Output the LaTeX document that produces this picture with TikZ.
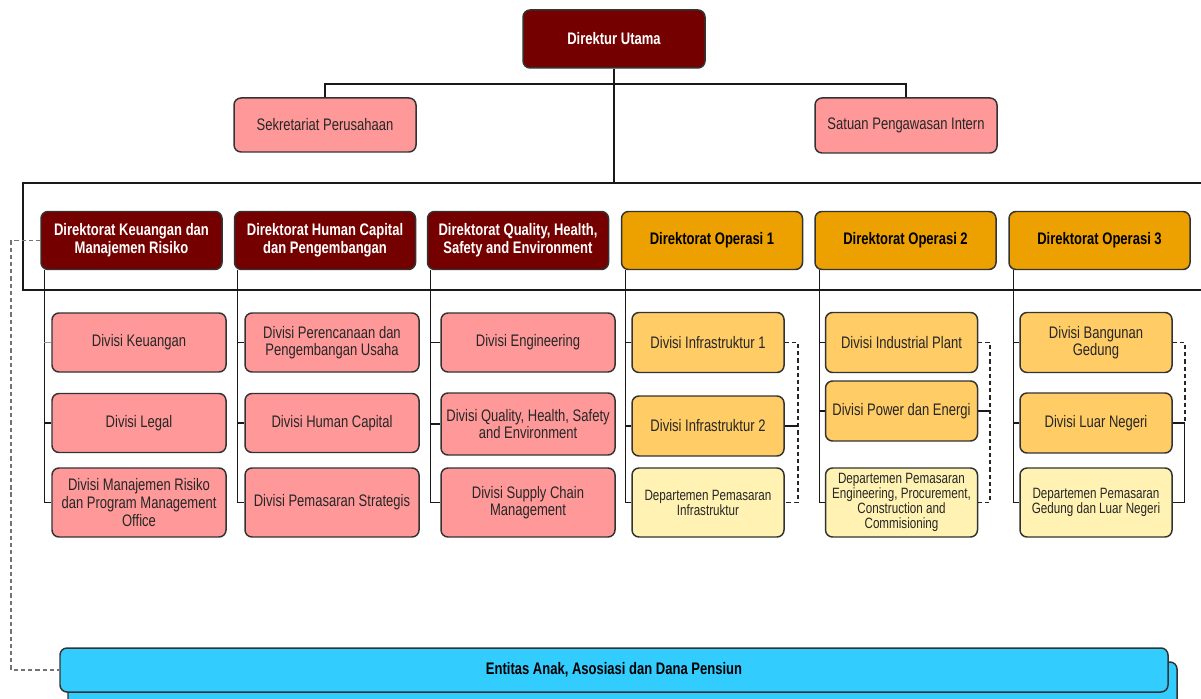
\documentclass[tikz,border=0pt]{standalone}
\usepackage{fontspec}
\setmainfont{Liberation Sans}[FakeStretch=0.78]
\usetikzlibrary{backgrounds}
\pgfdeclarelayer{edgelayer}
\pgfdeclarelayer{nodelayer}
\pgfsetlayers{edgelayer,nodelayer,main}
\definecolor{merah}{RGB}{117,0,0}
\definecolor{pink}{RGB}{255,153,153}
\definecolor{oranye}{RGB}{237,161,0}
\definecolor{oranyemuda}{RGB}{255,204,102}
\definecolor{kuning}{RGB}{255,242,178}
\definecolor{biru}{RGB}{51,204,255}
\tikzset{font=\fontsize{9.5}{10}\selectfont}
\tikzstyle{kotak}=[draw=black!80,line width=0.85pt,rounded corners=4pt,align=center,inner sep=1pt,text=black!85]
\tikzstyle{direksi}=[kotak,fill=merah,text=white,font=\bfseries\fontsize{9.5}{10.2}\selectfont,minimum width=3.64cm,minimum height=1.16cm]
\tikzstyle{dirop}=[kotak,fill=oranye,text=black,font=\bfseries\fontsize{9.5}{10.2}\selectfont,minimum width=3.62cm,minimum height=1.16cm]
\tikzstyle{divisi}=[kotak,fill=pink,minimum width=3.48cm,minimum height=1.18cm]
\tikzstyle{divop}=[kotak,fill=oranyemuda,minimum width=3.04cm,minimum height=1.2cm]
\tikzstyle{dept}=[kotak,fill=kuning,font=\fontsize{8.5}{8.5}\selectfont,minimum width=3.04cm,minimum height=1.38cm]
\tikzstyle{garis}=[line width=0.7pt,black!90]
\tikzstyle{putus}=[line width=0.95pt,black!85,dash pattern=on 2.4pt off 1.7pt]

\begin{document}
\begin{tikzpicture}
	\useasboundingbox (0,0) rectangle (24.02,-13.98);
	\clip (0,0) rectangle (24.02,-13.98);
	\begin{pgfonlayer}{nodelayer}
		\node [style=direksi] (0) at (12.28, -0.78) {Direktur Utama};
		\node [style=divisi, minimum width=3.64cm, minimum height=1.08cm] (1) at (6.5, -2.5) {Sekretariat Perusahaan};
		\node [style=divisi, minimum width=3.64cm, minimum height=1.1cm] (2) at (18.12, -2.51) {Satuan Pengawasan Intern};
		\node [style=direksi, minimum width=3.62cm] (3) at (2.63, -4.81) {Direktorat Keuangan dan\\Manajemen Risiko};
		\node [style=direksi, minimum width=3.62cm] (4) at (6.5, -4.81) {Direktorat Human Capital\\dan Pengembangan};
		\node [style=direksi, minimum width=3.62cm] (5) at (10.36, -4.81) {Direktorat Quality, Health,\\Safety and Environment};
		\node [style=dirop] (6) at (14.24, -4.81) {Direktorat Operasi 1};
		\node [style=dirop] (7) at (18.11, -4.81) {Direktorat Operasi 2};
		\node [style=dirop] (8) at (21.99, -4.81) {Direktorat Operasi 3};
		\node [style=divisi] (9) at (2.78, -6.85) {Divisi Keuangan};
		\node [style=divisi] (10) at (2.78, -8.46) {Divisi Legal};
		\node [style=divisi, minimum height=1.38cm] (11) at (2.78, -10.05) {Divisi Manajemen Risiko\\dan Program Management\\Office};
		\node [style=divisi] (12) at (6.64, -6.85) {Divisi Perencanaan dan\\Pengembangan Usaha};
		\node [style=divisi] (13) at (6.64, -8.46) {Divisi Human Capital};
		\node [style=divisi, minimum height=1.38cm] (14) at (6.64, -10.05) {Divisi Pemasaran Strategis};
		\node [style=divisi] (15) at (10.56, -6.85) {Divisi Engineering};
		\node [style=divisi, minimum height=1.24cm] (16) at (10.56, -8.48) {Divisi Quality, Health, Safety\\and Environment};
		\node [style=divisi, minimum height=1.38cm] (17) at (10.56, -10.05) {Divisi Supply Chain\\Management};
		\node [style=divop] (18) at (14.16, -6.85) {Divisi Infrastruktur 1};
		\node [style=divop] (19) at (14.16, -8.52) {Divisi Infrastruktur 2};
		\node [style=dept] (20) at (14.16, -10.05) {Departemen Pemasaran\\Infrastruktur};
		\node [style=divop] (21) at (18.03, -6.85) {Divisi Industrial Plant};
		\node [style=divop] (22) at (18.03, -8.22) {Divisi Power dan Energi};
		\node [style=dept] (23) at (18.03, -10.05) {Departemen Pemasaran\\Engineering, Procurement,\\Construction and\\Commisioning};
		\node [style=divop] (24) at (21.92, -6.85) {Divisi Bangunan\\Gedung};
		\node [style=divop] (25) at (21.92, -8.46) {Divisi Luar Negeri};
		\node [style=dept] (26) at (21.92, -10.05) {Departemen Pemasaran\\Gedung dan Luar Negeri};
		\node [style=kotak, fill=biru, text=black, font=\bfseries\fontsize{9.5}{10}\selectfont, minimum width=22.16cm, minimum height=0.88cm] (27) at (12.28, -13.4) {Entitas Anak, Asosiasi dan Dana Pensiun};
	\end{pgfonlayer}
	\begin{pgfonlayer}{edgelayer}
		\coordinate (j) at (12.28, -1.68);
		\coordinate (f) at (0.46, -3.66);
		\coordinate (t1) at ([xshift=0.08cm]3.south west);
		\coordinate (t2) at ([xshift=0.08cm]4.south west);
		\coordinate (t3) at ([xshift=0.08cm]5.south west);
		\coordinate (t4) at ([xshift=0.1cm]6.south west);
		\coordinate (t5) at ([xshift=0.1cm]7.south west);
		\coordinate (t6) at ([xshift=0.1cm]8.south west);
		\coordinate (r4) at ([xshift=0.26cm]18.east);
		\coordinate (r5) at ([xshift=0.24cm]21.east);
		\coordinate (r6) at ([xshift=0.24cm]24.east);
		% top
		\draw [style=garis] (1.north) |- (j) -| (2.north);
		\draw [style=garis] (0.south) -- (0.south |- f);
		\draw [style=garis] (f) rectangle (24.4, -5.8);
		% trunks
		\draw [style=garis] (t1) |- (11.west);
		\draw [style=garis, black!40] (9.west) -- (9.west -| t1);
		\draw [style=garis] (10.west) -- (10.west -| t1);
		\draw [style=garis] (t2) |- (14.west);
		\draw [style=garis] (12.west) -- (12.west -| t2);
		\draw [style=garis] (13.west) -- (13.west -| t2);
		\draw [style=garis] (t3) |- (17.west);
		\draw [style=garis] (15.west) -- (15.west -| t3);
		\draw [style=garis] (16.west) -- (16.west -| t3);
		\draw [style=garis] (t4) |- (20.west);
		\draw [style=garis] (18.west) -- (18.west -| t4);
		\draw [style=garis] (19.west) -- (19.west -| t4);
		\draw [style=garis] (t5) |- (23.west);
		\draw [style=garis] (21.west) -- (21.west -| t5);
		\draw [style=garis] (22.west) -- (22.west -| t5);
		\draw [style=garis] (t6) |- (26.west);
		\draw [style=garis] (24.west) -- (24.west -| t6);
		\draw [style=garis] (25.west) -- (25.west -| t6);
		% dashed links
		\draw [style=putus] (18.east) -- (r4) |- (20.east);
		\draw [style=garis] (19.east) -- (19.east -| r4);
		\draw [style=putus] (21.east) -- (r5) |- (23.east);
		\draw [style=garis] (22.east) -- (22.east -| r5);
		\draw [style=putus] (24.east) -- (r6) -- (r6 |- 25.east);
		\draw [style=garis] (25.east) -- (25.east -| r6) |- (26.east);
		\draw [style=putus, black!55] (3.west) -- ++(-0.58, 0) |- (27.west);
		% entitas
		\draw [fill=biru, draw=black!80, line width=0.85pt, rounded corners=4pt] (1.36, -13.24) rectangle (23.54, -14.4);
	\end{pgfonlayer}
\end{tikzpicture}
\end{document}
